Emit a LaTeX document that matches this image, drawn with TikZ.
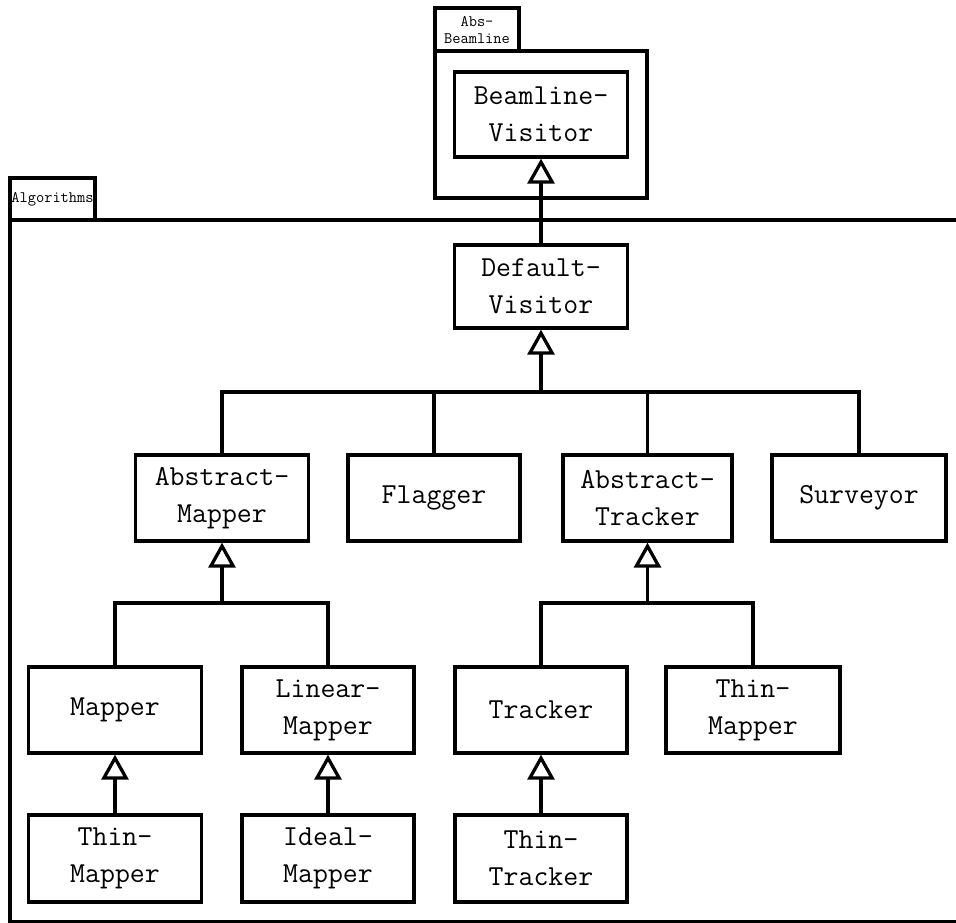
\documentclass[tikz,border=0pt]{standalone}
\usetikzlibrary{arrows.meta}
\begin{document}
\begin{tikzpicture}[x=1pt,y=-1pt,line width=3.3pt,
  cls/.style={draw, rectangle, minimum width=173pt, minimum height=86pt, inner sep=0pt, align=center,
    font=\fontsize{29}{37}\selectfont\ttfamily},
  tabtext/.style={font=\fontsize{16}{17}\selectfont\ttfamily, align=center, inner sep=0pt},
  inh/.style={-{Triangle[fill=white, length=25pt, width=27pt]}}]
\useasboundingbox (0,0) rectangle (956,922);
\clip (0,0) rectangle (956,922);

% packages
\draw (435,8) rectangle (519,51);
\node[tabtext] (tabab) at (477,30) {Abs-\\Beamline};
\draw (435,51) rectangle (647,198);
\draw (10,178) rectangle (95,220);
\node[tabtext] (tabalg) at (52.5,199) {Algorithms};
\draw (10,220) rectangle (990,922);

% classes
\node[cls, minimum height=85pt] (bv) at (541,114.5) {Beamline-\\Visitor};
\node[cls, minimum height=83pt] (dv) at (541,286.5) {Default-\\Visitor};
\node[cls] (am) at (222,498) {Abstract-\\Mapper};
\node[cls, minimum width=172pt] (fl) at (434,498) {Flagger};
\node[cls, minimum width=169pt] (at) at (647.5,498) {Abstract-\\Tracker};
\node[cls, minimum width=174pt] (su) at (859,498) {Surveyor};
\node[cls] (ma) at (115,710) {Mapper};
\node[cls, minimum width=172pt] (lm) at (328,710) {Linear-\\Mapper};
\node[cls, minimum width=172pt] (tr) at (541,710) {Tracker};
\node[cls, minimum width=174pt] (tm) at (753,710) {Thin-\\Mapper};
\node[cls, minimum height=87pt] (tm2) at (115,858.5) {Thin-\\Mapper};
\node[cls, minimum width=172pt, minimum height=87pt] (im) at (328,858.5) {Ideal-\\Mapper};
\node[cls, minimum width=172pt, minimum height=87pt] (tt) at (541,858.5) {Thin-\\Tracker};

% inheritance
\draw[inh] (dv.north) -- (bv.south);

\coordinate (b1) at (541,392);
\draw (am.north) -- (am.north |- b1) -- (su.north |- b1) -- (su.north);
\draw (fl.north) -- (fl.north |- b1);
\draw (at.north) -- (at.north |- b1);
\draw[inh] (b1) -- (dv.south);

\coordinate (b2) at (222,603);
\draw (ma.north) -- (ma.north |- b2) -- (lm.north |- b2) -- (lm.north);
\draw[inh] (b2) -- (am.south);

\coordinate (b3) at (647.5,603);
\draw (tr.north) -- (tr.north |- b3) -- (tm.north |- b3) -- (tm.north);
\draw[inh] (b3) -- (at.south);

\draw[inh] (tm2.north) -- (ma.south);
\draw[inh] (im.north) -- (lm.south);
\draw[inh] (tt.north) -- (tr.south);
\end{tikzpicture}
\end{document}
